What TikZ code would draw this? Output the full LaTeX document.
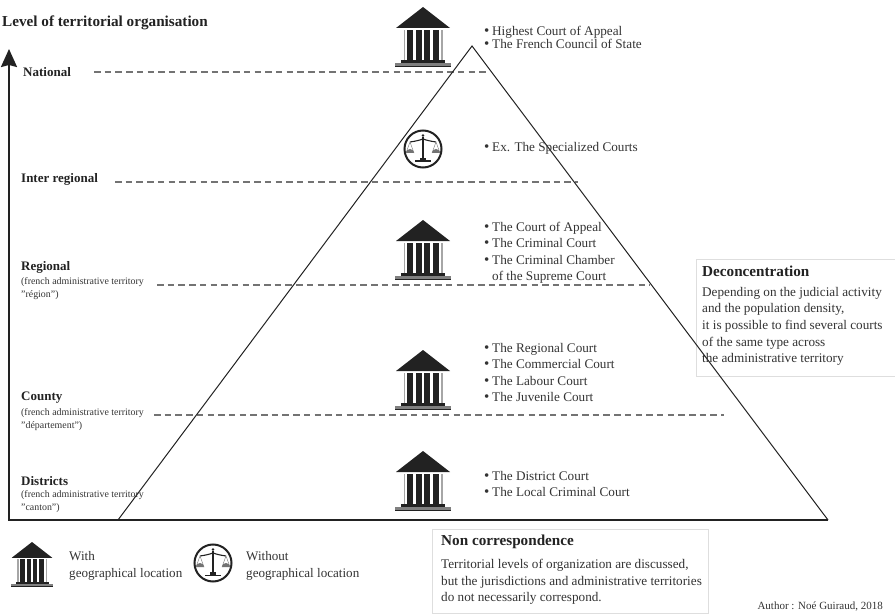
\documentclass[tikz,border=0pt]{standalone}
\usepackage{fontspec}
\setmainfont{Liberation Serif}
\usetikzlibrary{arrows.meta}
\definecolor{ink}{HTML}{222222}
\definecolor{txt}{HTML}{333333}
\newcommand\bul{\makebox[8pt][l]{\raisebox{0pt}{\fontsize{15}{14}\selectfont\textbullet}}}
\tikzset{
  x=1pt,y=-1pt,
  level/.style={font=\fontsize{13}{15}\selectfont\bfseries,text=ink,inner sep=0pt,anchor=west},
  sub/.style={font=\fontsize{9.9}{13}\selectfont,text=txt,inner sep=0pt,anchor=north west,align=left},
  court/.style={font=\fontsize{13.2}{16.4}\selectfont,text=txt,inner sep=0pt,anchor=north west,align=left},
  notetext/.style={court,font=\fontsize{13.2}{16.6}\selectfont},
  heading/.style={font=\fontsize{15.2}{17}\selectfont\bfseries,text=ink,inner sep=0pt,anchor=west},
  dashline/.style={draw=black!55,line width=1.1pt,dash pattern=on 6.5pt off 4.2pt},
  pyr/.style={draw=ink,line width=1pt},
  notebox/.style={draw=black!13,fill=white,line width=.8pt},
  courthouse/.pic={
    \fill[ink] (0,0) -- (27,21) -- (-27,21) -- cycle;
    \fill[black!35] (-19.5,23) rectangle (19.5,53);
    \fill[white] (-18,23) rectangle (18,53);
    \foreach \cx in {-16.3,-7.3,0.9,9.9}{\fill[ink] (\cx,23) rectangle (\cx+6.4,53);}
    \fill[ink] (-22,53) rectangle (22,56);
    \fill[black!50] (-28,56) rectangle (28,59);
    \fill[ink] (-28,59) rectangle (28,60);
  },
  justice/.pic={
    \draw[ink,line width=2pt,fill=white] (0,0) circle (18.5);
    \draw[ink,line width=1.5pt] (0,-12) -- (0,10);
    \fill[ink] (0,-13.5) circle (1.4);
    \draw[ink,line width=1.1pt] (-13,-7) .. controls (-6,-8) and (-3,-9) .. (0,-10) .. controls (3,-9) and (6,-8) .. (13,-7);
    \fill[ink] (-8,11.5) rectangle (8,13);
    \fill[ink] (-3,9) rectangle (3,11.5);
    \draw[black!55,line width=.4pt] (-13,-7) -- (-17,4) (-13,-7) -- (-9,4) (13,-7) -- (17,4) (13,-7) -- (9,4);
    \fill[black!55] (-17,4) arc (180:360:4) -- cycle;
    \fill[black!55] (9,4) arc (180:360:4) -- cycle;
  }
}
\begin{document}
\begin{tikzpicture}
\useasboundingbox (0,0) rectangle (895,615);

\coordinate (apex) at (472,46);
\coordinate (baseL) at (118,520);
\coordinate (baseR) at (828,520);
\coordinate (origin) at (9,520);
\coordinate (axisTop) at (9,49);

% dashed level lines
\coordinate (d1a) at (94,72);  \coordinate (d1b) at (488,72);
\coordinate (d2a) at (115,182); \coordinate (d2b) at (578,182);
\coordinate (d3a) at (157,285); \coordinate (d3b) at (650,285);
\coordinate (d4a) at (154,415); \coordinate (d4b) at (724,415);
\draw[dashline] (d1a) -- (d1b);
\draw[dashline] (d2a) -- (d2b);
\draw[dashline] (d3a) -- (d3b);
\draw[dashline] (d4a) -- (d4b);

% note boxes
\node[notebox,minimum width=205pt,minimum height=117pt,inner sep=0pt] (deconBox) at (798.5,317.5) {};
\node[notebox,minimum width=276pt,minimum height=84pt,inner sep=0pt] (nonBox) at (570,571) {};

% pyramid and axes
\draw[pyr] (baseL) -- (apex) -- (baseR);
\draw[ink,line width=2.2pt,-{Stealth[length=18pt,width=16pt,inset=2pt]}] (baseR) -- (origin) -- (axisTop);

% title
\node[heading] (title) at (2,23) {Level of territorial organisation};

% level labels
\node[level] (national) at (23,72) {National};
\node[level] (inter) at (21,179) {Inter regional};
\node[level] (regional) at (21,267) {Regional};
\node[sub] (regionalsub) at (21,277) {(french administrative territory\\"région")};
\node[level] (county) at (21,398) {County};
\node[sub] (countysub) at (21,408) {(french administrative territory\\"département")};
\node[level] (districts) at (21,481) {Districts};
\node[sub] (districtssub) at (21,490) {(french administrative territory\\"canton")};

% icons
\pic at (423,7) {courthouse};
\pic at (423,149) {justice};
\pic at (423,220) {courthouse};
\pic at (423,350) {courthouse};
\pic at (423,451) {courthouse};
\pic[scale=.75] at (32,542) {courthouse};
\pic at (213,563) {justice};

% court lists
\node[court,font=\fontsize{13.2}{13.5}\selectfont] (c1) at (484,26) {\bul Highest Court of Appeal\\\bul The French Council of State};
\node[court] (c2) at (484,142) {\bul Ex. The Specialized Courts};
\node[court] (c3) at (484,222) {\bul The Court of Appeal\\\bul The Criminal Court\\\bul The  Criminal Chamber\\\phantom{\bul}of the Supreme Court};
\node[court] (c4) at (484,343) {\bul The Regional Court\\\bul The Commercial Court\\\bul The Labour Court\\\bul The Juvenile Court};
\node[court] (c5) at (484,471) {\bul The District Court\\\bul The Local Criminal Court};

% notes text
\node[heading] (deconT) at (702,271) {Deconcentration};
\node[notetext] (deconP) at (702,287) {Depending on the judicial activity\\and the population density,\\it is possible to find several courts\\of the same type across\\the administrative territory};
\node[heading] (nonT) at (441,542) {Non correspondence};
\node[notetext] (nonP) at (441,559) {Territorial levels of organization are discussed,\\but the jurisdictions and administrative territories\\do not necessarily correspond.};

% legend
\node[court,font=\fontsize{13.1}{17}\selectfont] (leg1) at (69,551) {With\\geographical location};
\node[court,font=\fontsize{13.1}{17}\selectfont] (leg2) at (246,551) {Without\\geographical location};
\node[font=\fontsize{11}{13}\selectfont,text=txt,inner sep=0pt,anchor=east] (author) at (883,607) {Author : Noé Guiraud, 2018};
\end{tikzpicture}
\end{document}
